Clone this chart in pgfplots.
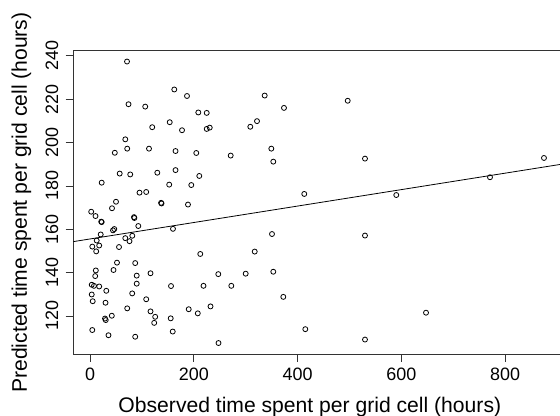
\documentclass[border=0pt]{standalone}
\usepackage{fontspec}
\setmainfont{Liberation Sans}
\usepackage{pgfplots}
\pgfplotsset{compat=1.18}

\begin{document}
\begin{tikzpicture}
\begin{axis}[
  at={(0,0)}, anchor=south west,
  scale only axis,
  width=486.7bp, height=303.6bp,
  xmin=-32.2, xmax=905.7,
  ymin=102.3, ymax=242.4,
  axis x line=box, axis y line=left,
  axis line style={-, line width=0.8bp, black!80},
  xtick={0,200,400,600,800},
  ytick={120,140,160,180,200,220,240},
  xtick pos=bottom, ytick pos=left,
  tick align=outside,
  major tick length=7.6bp,
  every tick/.style={line width=0.8bp, black!80},
  /pgf/number format/assume math mode=true,
  ticklabel style={font=\fontsize{18}{18}\selectfont},
  xticklabel style={yshift=-3bp},
  yticklabel style={rotate=90, anchor=south, yshift=4bp},
  every axis x label/.style={at={(axis description cs:0.486,-0.1924)}, anchor=base, font=\fontsize{21.2}{21.2}\selectfont},
  every axis y label/.style={at={(axis description cs:-0.0953,0.5)}, rotate=90, anchor=base, font=\fontsize{21.2}{21.2}\selectfont},
  xlabel={Observed time spent per grid cell (hours)},
  ylabel={Predicted time spent per grid cell (hours)},
]
% observed vs predicted
\addplot[only marks, mark=o, mark size=2.5bp, mark options={line width=0.8bp, black}] coordinates {
(71.3,237.4) (74.2,217.7) (106.4,216.6) (162.4,224.5) (186.9,221.5) (336.6,221.7)
(153.6,209.4) (208.7,213.9) (224.9,213.7) (119.9,207.1) (177.3,205.7) (224.9,206.3)
(230.7,206.9) (308.9,207.3) (321.8,209.9) (68.0,201.5) (71.7,197.2) (113.7,197.2)
(47.8,195.3) (164.8,196.1) (204.8,195.2) (271.1,194.0) (349.4,197.2) (353.2,191.2)
(57.2,185.7) (77.5,185.3) (129.7,186.1) (164.8,187.3) (210.6,184.6) (22.5,181.5)
(152.6,180.6) (195.2,180.4) (95.4,176.9) (108.3,177.2) (137.0,172.2) (137.8,171.9)
(188.8,171.4) (50.1,172.7) (42.4,169.7) (2.3,168.1) (10.6,166.1) (21.6,163.5)
(22.5,163.3) (84.8,165.6) (85.5,165.2) (93.1,161.5) (46.8,160.1) (44.3,159.5)
(159.9,160.2) (20.6,157.6) (12.9,154.8) (17.7,152.5) (4.4,152.0) (11.9,149.8)
(68.0,155.9) (81.5,157.0) (76.1,154.5) (55.9,151.8) (212.5,148.6) (350.7,157.8)
(317.4,149.7) (87.1,144.4) (52.0,144.6) (45.3,141.2) (11.2,141.0) (10.0,138.4)
(90.0,138.6) (116.6,139.7) (3.3,134.4) (7.7,133.9) (17.7,133.6) (90.0,134.9)
(156.1,133.8) (218.7,133.9) (272.3,133.9) (31.4,131.6) (3.3,129.9) (5.2,126.8)
(81.3,130.4) (29.9,126.1) (108.3,127.7) (71.7,123.5) (116.6,122.1) (125.6,119.6)
(123.7,116.8) (155.5,118.9) (190.2,123.1) (207.7,121.2) (232.2,124.4) (247.2,139.3)
(300.0,139.5) (353.2,140.4) (28.9,118.8) (30.3,118.1) (42.0,120.1) (4.4,113.5)
(35.6,111.1) (87.1,110.4) (159.4,112.8) (247.6,107.5) (373.8,216.0) (496.6,219.3)
(529.9,192.6) (412.9,176.3) (590.2,175.8) (770.8,184.0) (874.8,192.9) (529.9,157.1)
(372.5,128.8) (647.5,121.5) (414.9,113.9) (529.9,109.1)
};
% fitted line
\addplot[black, line width=0.8bp] coordinates {(-32.2,154.3) (905.7,189.9)};
\end{axis}
\pgfresetboundingbox
\useasboundingbox (-73.3bp,-61.7bp) rectangle (486.7bp,354.3bp);
\end{tikzpicture}
\end{document}
